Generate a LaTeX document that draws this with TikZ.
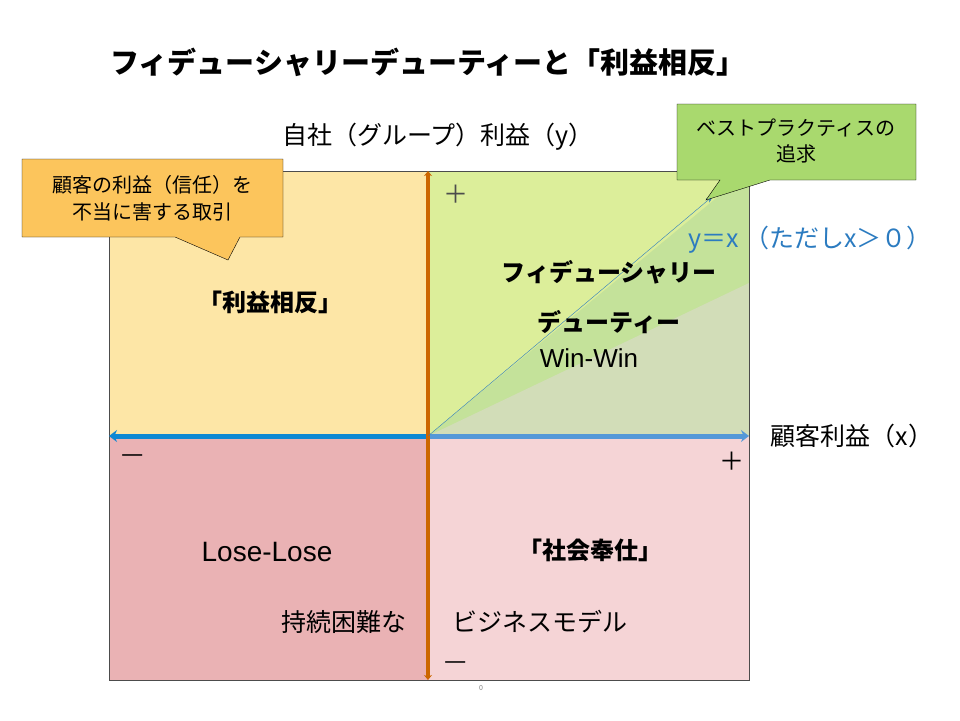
\documentclass[tikz,border=0pt]{standalone}
\usepackage{fontspec}
\usetikzlibrary{arrows.meta}
\setmainfont{Noto Sans CJK JP}
\newfontfamily\lat{Liberation Sans}
\definecolor{qyel}{HTML}{FDE6A6}
\definecolor{qgrn}{HTML}{DCEE9A}
\definecolor{qgrn2}{HTML}{C4E29A}
\definecolor{qgry}{HTML}{D2DDB8}
\definecolor{qred}{HTML}{EAB2B4}
\definecolor{qpnk}{HTML}{F5D4D6}
\definecolor{cgrn}{HTML}{A9D96E}
\definecolor{corg}{HTML}{FCC55C}
\definecolor{eqc}{HTML}{2B7BC0}
\begin{document}
\begin{tikzpicture}[x=1pt,y=-1pt,
  lbl/.style={inner sep=0pt,font=\fontsize{25}{30}\selectfont},
  bl/.style={inner sep=0pt,font=\fontsize{24}{30}\selectfont\bfseries}]
\useasboundingbox (0,0) rectangle (960,720);
\coordinate (O) at (428,436);
% quadrants
\fill[qyel] (109,171) rectangle (428,436);
\fill[qgrn] (428,171) rectangle (749,436);
\fill[qgrn2] (428,436) -- (749,171) -- (749,436) -- cycle;
\fill[qgry] (428,436) -- (749,283) -- (749,436) -- cycle;
\fill[qred] (109,436) rectangle (428,680);
\fill[qpnk] (428,436) rectangle (749,680);
\draw[black!70,thin] (109,171) rectangle (749,680);
% axes
\coordinate (xl) at (109,436); \coordinate (xr) at (749,436);
\coordinate (yt) at (428,171); \coordinate (yb) at (428,680);
\draw[line width=5pt,cyan!70!blue,-{Stealth[length=8pt,width=12pt]}] (O) -- (xl);
\draw[line width=5pt,cyan!60!blue!70,-{Stealth[length=8pt,width=12pt]}] (O) -- (xr);
\draw[line width=4pt,orange!80!black,{Stealth[length=5pt,width=8pt]}-{Stealth[length=5pt,width=8pt]}] (yb) -- (yt);
\coordinate (dt) at (713,196);
\draw[eqc,thin,-{Stealth[length=7pt]}] (O) -- (dt);
% callouts
\draw[fill=cgrn,draw=black] (677,104) -- (916,104) -- (916,180) -- (770,180) -- (706,200) -- (720,180) -- (677,180) -- cycle;
\node[align=center,inner sep=0pt,font=\fontsize{20}{26}\selectfont] (c1) at (796,141) {ベストプラクティスの\\追求};
\draw[fill=corg,draw=black] (22,159) -- (283,159) -- (283,237) -- (240,237) -- (228,260) -- (175,237) -- (22,237) -- cycle;
\node[align=center,inner sep=0pt,font=\fontsize{20}{27}\selectfont] (c2) at (152,198) {顧客の利益（信任）を\\不当に害する取引};
% texts
\node[inner sep=0pt,font=\fontsize{29}{34}\selectfont\bfseries] (t) at (428,62) {フィデューシャリーデューティーと「利益相反」};
\node[lbl] (ya) at (438,137) {自社（グループ）利益（y）};
\node[lbl] (xa) at (852,436) {顧客利益（x）};
\node[lbl,text=eqc] (eq) at (810,240) {y＝x （ただしx＞０）};
\node[bl] at (270,302) {「利益相反」};
\node[bl] at (609,272) {フィデューシャリー};
\node[bl] at (609,322) {デューティー};
\node[inner sep=0pt,font=\lat\fontsize{26}{30}\selectfont] at (589,358) {Win-Win};
\node[inner sep=0pt,font=\lat\fontsize{28}{32}\selectfont] at (267,552) {Lose-Lose};
\node[bl] at (590,550) {「社会奉仕」};
\node[lbl] at (344,622) {持続困難な};
\node[lbl] at (540,622) {ビジネスモデル};
\node[lbl,text=black!70] at (456,194) {＋};
\node[lbl] at (732,461) {＋};
\node[lbl] at (133,459) {—};
\node[lbl] at (456,666) {—};
\node[inner sep=0pt,font=\fontsize{7}{8}\selectfont,text=gray] at (481,688) {0};
\end{tikzpicture}
\end{document}
